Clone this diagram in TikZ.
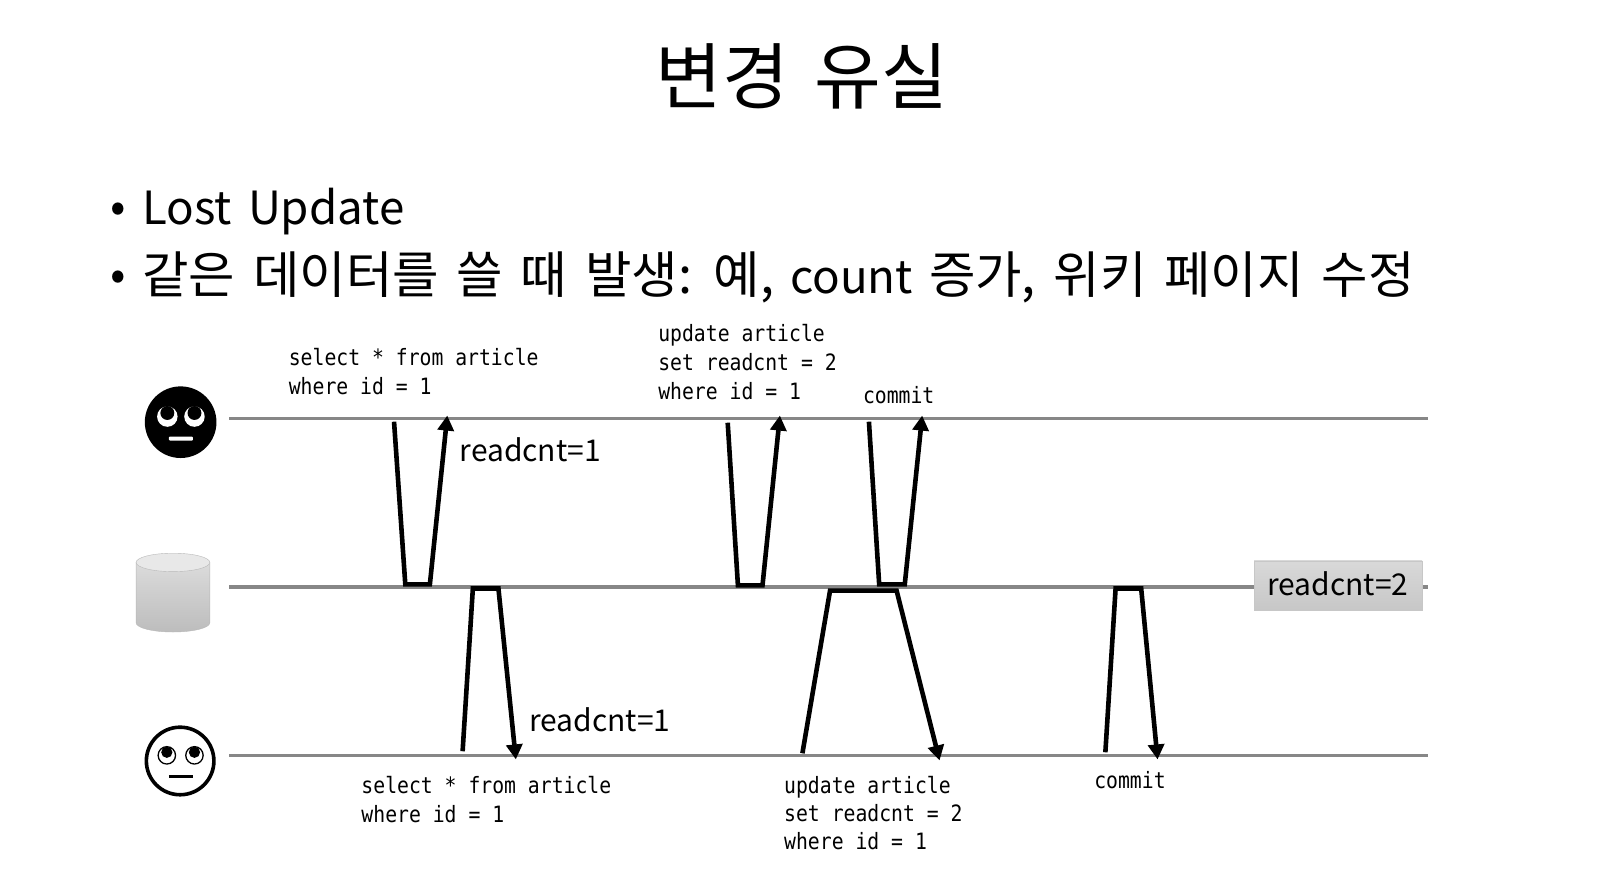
\documentclass[tikz,border=0pt]{standalone}
\usepackage{fontspec}
\setmainfont[WordSpace=1.57]{Noto Sans CJK KR}
\newfontfamily\codefont[FakeStretch=0.878]{DejaVu Sans Mono}
\newcommand{\hangul}[1]{{\fontsize{50.5}{52}\selectfont #1}}
\usetikzlibrary{arrows.meta}

\begin{document}
\begin{tikzpicture}[%
        x = 1.0235pt,
        y = -1.0235pt,
        timeline/.style = {color = black!47, line width = 3.4pt},
        msg/.style = {%
            line width = 4.6pt,
            miter limit = 10,
            -{Triangle[length = 15pt, width = 16pt]}
        },
        sql/.style = {%
            anchor = base west,
            inner sep = 0pt,
            align = left,
            font = \codefont\fontsize{22.5}{28.6}\selectfont
        },
        body/.style = {%
            anchor = base west,
            inner sep = 0pt,
            font = \fontsize{45.7}{50}\selectfont
        },
        value/.style = {%
            anchor = base west,
            inner sep = 0pt,
            font = \fontsize{30}{34}\selectfont
        }
    ]

        % Fix the page to the size of the slide.
        \useasboundingbox (0, 0) rectangle (1567.2, 848.1);

        % Heading and the two bullet lines.
        \node[anchor = base, inner sep = 0pt, font = \fontsize{72.5}{76}\selectfont]
            (title) at (783.5, 101) {변경 유실};
        \node[body] (bulletA) at (108, 217) {•};
        \node[body] (lineA) at (139, 219.5) {Lost Update};
        \node[body] (bulletB) at (108, 284) {•};
        \node[body] (lineB) at (139, 287)
            {\hangul{같은 데이터를 쓸 때 발생: 예,} count \hangul{증가, 위키 페이지 수정}};

        % The three horizontal time lines.
        \foreach\name/\y in {top/409, mid/573.5, low/738}{%
            \coordinate (\name L) at (224, \y);
            \coordinate (\name R) at (1395, \y);
            \draw[timeline] (\name L) to (\name R);
        }

        % Value box sits on the middle line.
        \node[%
            minimum width = 168pt,
            minimum height = 49pt,
            inner sep = 0pt,
            draw = black!22,
            top color = black!15,
            bottom color = black!22
        ] (stored) at (1307.5, 572) {};
        \node[value] (storedText) at (1238, 582) {readcnt=2};

        % Each request: start, two corners, then the arrow tip.
        \foreach\id/\ax/\ay/\bx/\by/\cx/\cy/\dx/\dy in {%
            readA/385/412/396/571/420/571/437/406,
            writeA/711/413/721/572/745/572/762/406,
            doneA/849/412/859/571/884/571/901/406,
            readB/452/734/462/575/487/575/504/742,
            writeB/784/736/811/577/876/577/918/743,
            doneB/1080/735/1090/575/1115/575/1131/742%
        }{%
            \coordinate (\id a) at (\ax, \ay);
            \coordinate (\id b) at (\bx, \by);
            \coordinate (\id c) at (\cx, \cy);
            \coordinate (\id d) at (\dx, \dy);
            \draw[msg] (\id a) -- (\id b) -- (\id c) -- (\id d);
        }

        % SQL texts above the first line.
        \node[sql] (selA) at (282, 357) {select * from article};
        \node[sql] (whereA) at (282, 385) {where id = 1};
        \node[sql] (updA) at (643, 334) {update article};
        \node[sql] (setA) at (643, 362) {set readcnt = 2};
        \node[sql] (idA) at (643, 390) {where id = 1};
        \node[sql] (comA) at (843, 394) {commit};

        % SQL texts below the last line.
        \node[sql] (selB) at (353, 775) {select * from article};
        \node[sql] (whereB) at (353, 804) {where id = 1};
        \node[sql] (updB) at (766, 775) {update article};
        \node[sql] (setB) at (766, 803) {set readcnt = 2};
        \node[sql] (idB) at (766, 830) {where id = 1};
        \node[sql] (comB) at (1069, 770) {commit};

        % Values that were read.
        \node[value] (readValA) at (449, 451) {readcnt=1};
        \node[value] (readValB) at (517, 715) {readcnt=1};

        % Black face.
        \fill (176.5, 412.5) circle (35);
        \foreach\x in {163.5, 190}{%
            \fill[white] (\x, 407) circle (10);
            \fill (\x, 403.5) circle (6.8);
        }
        \fill[white, rounded corners = 1pt] (165, 426.5) rectangle (188.5, 430.5);

        % White face.
        \draw[line width = 3.6pt] (176, 743.5) circle (33);
        \foreach\x in {163, 190}{%
            \draw[line width = 1.3pt] (\x, 738) circle (8.5);
            \fill (\x, 735) circle (5.5);
        }
        \draw[line width = 3pt] (165, 758.5) to (189, 758.5);

        % Database drum.
        \path[%
            draw = black!28,
            top color = black!14,
            bottom color = black!26
        ] (133, 549.5) -- (133, 608.5) arc[start angle = 180, end angle = 0,
            x radius = 36, y radius = 9] -- (205, 549.5) -- cycle;
        \draw[black!28, fill = black!9] (169, 549.5) ellipse (36 and 9);
    \end{tikzpicture}
\end{document}
